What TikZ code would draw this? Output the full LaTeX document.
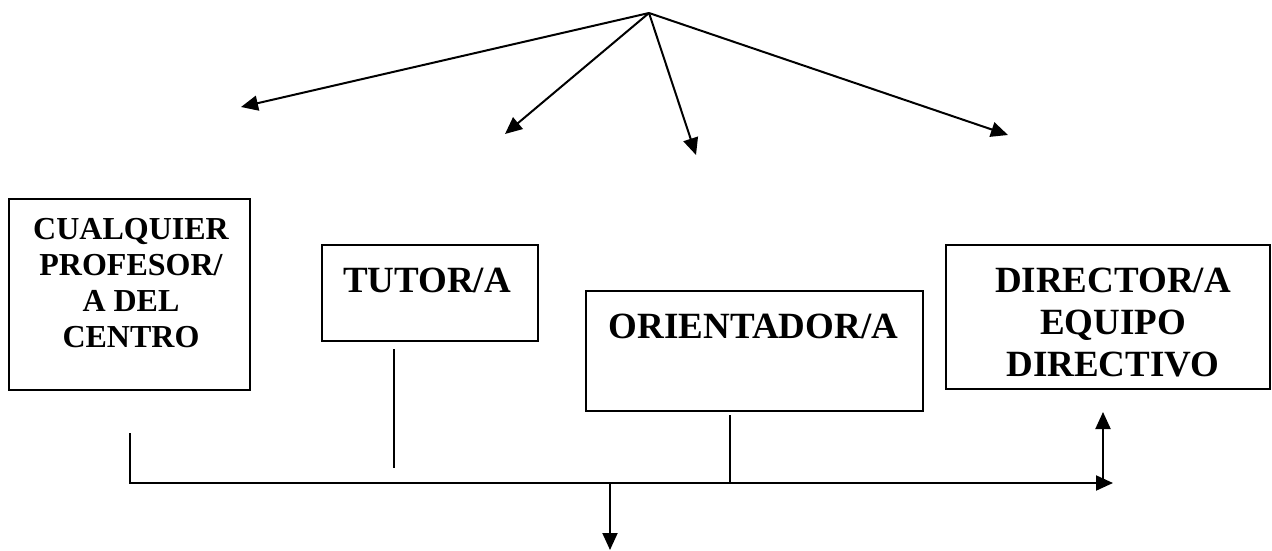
\documentclass[tikz,border=0pt]{standalone}
\usepackage{fontspec}
\setmainfont{Liberation Serif}
\usetikzlibrary{arrows.meta}
\tikzset{
	caja/.style={draw,line width=1.8pt,inner sep=0pt},
	rotulo/.style={font=\bfseries\fontsize{37}{42}\selectfont,align=center,anchor=base,inner sep=0pt},
	linea/.style={line width=2pt},
	flecha/.style={linea,-{Triangle[length=17pt,width=15pt]}}
}
\begin{document}
\begin{tikzpicture}[x=1pt,y=-1pt]
			\useasboundingbox (0,0) rectangle (1272,551);
			%cajas
			\node [caja,minimum width=241,minimum height=191] (prof) at (129.5,294.5) {};
			\node [caja,minimum width=216,minimum height=96] (tutor) at (430,293) {};
			\node [caja,minimum width=337,minimum height=120] (orient) at (754.5,351) {};
			\node [caja,minimum width=324,minimum height=144] (dir) at (1108,317) {};
			\node [rotulo,font=\bfseries\fontsize{32}{36}\selectfont] (profT) at (131,347) {CUALQUIER\\PROFESOR/\\A DEL\\CENTRO};
			\node [rotulo] (tutorT) at (427,292) {TUTOR/A};
			\node [rotulo] (orientT) at (753.5,338) {ORIENTADOR/A};
			\node [rotulo] (dirT) at (1113,376) {DIRECTOR/A\\EQUIPO\\DIRECTIVO};
			%flechas de arriba
			\coordinate (O) at (649,13);
			\coordinate (A1) at (241,107);
			\coordinate (A2) at (505,134);
			\coordinate (A3) at (696,155);
			\coordinate (A4) at (1008,135);
			\draw [flecha] (O) to (A1);
			\draw [flecha] (O) to (A2);
			\draw [flecha] (O) to (A3);
			\draw [flecha] (O) to (A4);
			%lineas de abajo
			\coordinate (P) at (130,433);
			\coordinate (Q) at (130,483);
			\coordinate (R) at (1113,483);
			\coordinate (T1) at (394,349);
			\coordinate (T2) at (394,468);
			\coordinate (M1) at (730,415);
			\coordinate (M2) at (730,483);
			\coordinate (B1) at (610,483);
			\coordinate (B2) at (610,550);
			\coordinate (D1) at (1103,483);
			\coordinate (D2) at (1103,412);
			\draw [flecha] (P) to (Q) to (R);
			\draw [linea] (T1) to (T2);
			\draw [linea] (M1) to (M2);
			\draw [flecha] (B1) to (B2);
			\draw [flecha] (D1) to (D2);
		\end{tikzpicture}
\end{document}
